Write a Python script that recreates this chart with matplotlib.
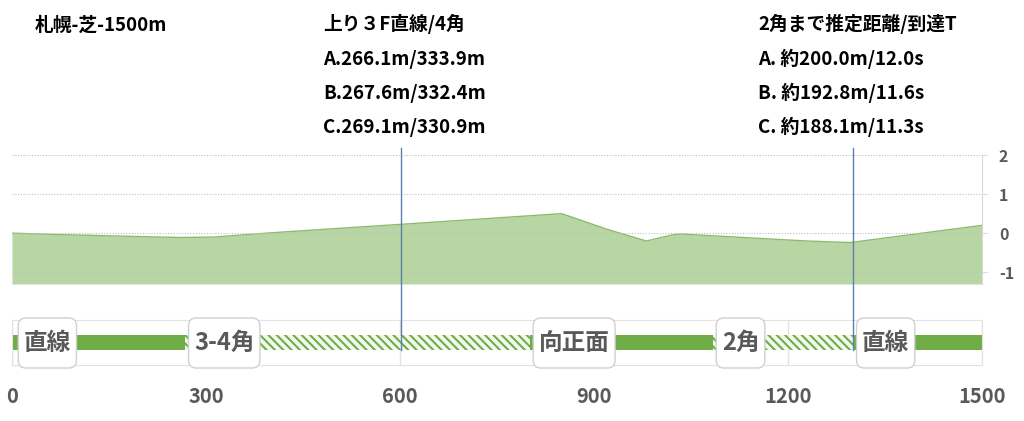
import matplotlib.pyplot as plt
from matplotlib.patches import FancyBboxPatch
from matplotlib.lines import Line2D
from matplotlib.transforms import blended_transform_factory

plt.rcParams['font.family'] = ['Noto Sans CJK JP', 'DejaVu Sans']
plt.rcParams['hatch.linewidth'] = 1.5
plt.rcParams['axes.unicode_minus'] = False

# elevation profile (m from start, relative height)
dist = [0, 85, 180, 260, 311, 410, 605, 786, 850, 920, 981, 1022, 1033, 1141, 1229, 1296, 1500]
elev = [0.0, -0.04, -0.08, -0.11, -0.10, 0.02, 0.23, 0.43, 0.50, 0.10, -0.20, -0.04, -0.02, -0.12, -0.20, -0.24, 0.20]

# course sections
seg_start = [0, 268, 801, 1084, 1301]
seg_end = [268, 801, 1084, 1301, 1500]
seg_corner = [False, True, False, True, False]
seg_label = ['直線', '3-4角', '向正面', '2角', '直線']

marker_x = [602, 1301]
x_ticks = [0, 300, 600, 900, 1200, 1500]
y_ticks = [-1, 0, 1, 2]

course = '札幌-芝-1500m'
block_3f = ['上り３F直線/4角', 'A.266.1m/333.9m', 'B.267.6m/332.4m', 'C.269.1m/330.9m']
block_2c = ['2角まで推定距離/到達T', 'A. 約200.0m/12.0s', 'B. 約192.8m/11.6s', 'C. 約188.1m/11.3s']

green = '#70ad47'
gray_txt = '#595959'
light = '#d9d9d9'

fig = plt.figure(figsize=(10.24, 4.21), dpi=100)
L, W = 12 / 1024, 970 / 1024
ax = fig.add_axes([L, 1 - 284 / 421, W, 129 / 421])
ax2 = fig.add_axes([L, 1 - 365 / 421, W, 45 / 421])

# --- elevation
ax.fill_between(dist, elev, -1.3, color='#b7d6a3', lw=0, zorder=1)
ax.plot(dist, elev, color='#8dbb6e', lw=1, zorder=2)
ax.set_xlim(0, 1500)
ax.set_ylim(-1.3, 2)
ax.set_yticks(y_ticks)
ax.yaxis.tick_right()
ax.set_xticks([])
ax.grid(axis='y', color='#c0c0c0', ls=(0, (1, 1.5)), lw=0.8, zorder=3)
ax.set_axisbelow(False)
for s in ['top', 'left', 'bottom']:
    ax.spines[s].set_visible(False)
ax.spines['right'].set_color(light)
ax.tick_params(axis='y', length=3.6, color=light, pad=8.6, labelsize=11.5,
               labelcolor=gray_txt)
for lb in ax.get_yticklabels():
    lb.set_fontweight('bold')
    lb.set_horizontalalignment('left')

# --- course track
ax2.set_xlim(0, 1500)
ax2.set_ylim(0, 1)
ax2.set_yticks([])
ax2.set_xticks(x_ticks)
ax2.grid(axis='x', color='#e3e3e3', lw=1)
ax2.set_axisbelow(True)
for s in ax2.spines.values():
    s.set_color('#e3e3e3')
ax2.tick_params(axis='x', length=0, pad=15, labelsize=14.5, labelcolor=gray_txt)
for lb in ax2.get_xticklabels():
    lb.set_fontweight('bold')

for s0, s1, corner in zip(seg_start, seg_end, seg_corner):
    if corner:
        ax2.barh(0.5, s1 - s0, left=s0, height=0.34, facecolor='#f4f9f0',
                 edgecolor=green, hatch='\\\\\\\\', lw=0, zorder=2)
    else:
        ax2.barh(0.5, s1 - s0, left=s0, height=0.34, color=green, lw=0, zorder=2)

# marker lines through both panels
tr = blended_transform_factory(ax.transData, fig.transFigure)
for mx in marker_x:
    fig.add_artist(Line2D([mx, mx], [1 - 148 / 421, 1 - 350 / 421], transform=tr,
                          color='#5b80ad', lw=1, zorder=5))

# labels with rounded boxes
m_per_px = 1500 / 970
renderer = fig.canvas.get_renderer()
pad_px = 5.5
for s0, lab in zip(seg_start, seg_label):
    t = ax2.text(s0 + 5 + pad_px * m_per_px + (3 * m_per_px if s0 == 0 else 0), 0.5, lab,
                 ha='left', va='center', fontsize=17, fontweight='bold',
                 color=gray_txt, zorder=7)
    bb = t.get_window_extent(renderer)
    x0 = ax2.transData.inverted().transform((bb.x0, 0))[0] - pad_px * m_per_px
    x1 = ax2.transData.inverted().transform((bb.x1, 0))[0] + pad_px * m_per_px
    y0, y1 = -3 / 45, 47 / 45
    box = FancyBboxPatch((x0, y0), x1 - x0, y1 - y0,
                         boxstyle='round,pad=0,rounding_size=12',
                         mutation_aspect=(1 / 45) / m_per_px,
                         facecolor='white', edgecolor='#d0d0d0', lw=1,
                         clip_on=False, zorder=6)
    ax2.add_patch(box)

# header texts
fig.text(35 / 1024, 1 - 30.5 / 421, course, fontsize=13.5, fontweight='bold',
         va='baseline', ha='left')
for i, (a, b) in enumerate(zip(block_3f, block_2c)):
    y = 1 - (30.5 + i * 34.3) / 421
    fig.text(323 / 1024, y, a, fontsize=13.5, fontweight='bold', va='baseline', ha='left')
    fig.text(758 / 1024, y, b, fontsize=13.5, fontweight='bold', va='baseline', ha='left')

fig.savefig('out.png', dpi=100)
